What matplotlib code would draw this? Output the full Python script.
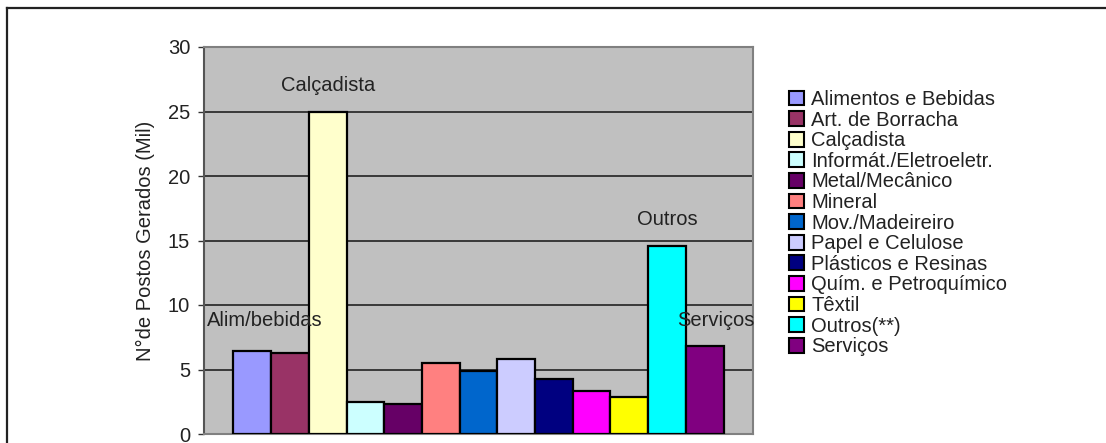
import matplotlib
matplotlib.use("Agg")
import matplotlib.pyplot as plt
from matplotlib.patches import Rectangle
from matplotlib.lines import Line2D

plt.rcParams['font.family'] = ['Liberation Sans', 'DejaVu Sans']

categories = ["Alimentos e Bebidas", "Art. de Borracha", "Calçadista",
              "Informát./Eletroeletr.", "Metal/Mecânico", "Mineral",
              "Mov./Madeireiro", "Papel e Celulose", "Plásticos e Resinas",
              "Quím. e Petroquímico", "Têxtil", "Outros(**)", "Serviços"]
values = [6.4, 6.3, 25.0, 2.5, 2.3, 5.5, 4.9, 5.8, 4.3, 3.3, 2.9, 14.6, 6.8]
colors = ["#9999FF", "#993366", "#FFFFCC", "#CCFFFF", "#660066", "#FF8080",
          "#0066CC", "#CCCCFF", "#000080", "#FF00FF", "#FFFF00", "#00FFFF",
          "#800080"]
yticks = [0, 5, 10, 15, 20, 25, 30]
annotations = [("Calçadista", 2, 27.0), ("Alim/bebidas", 0.33, 8.8),
               ("Outros", 11, 16.6), ("Serviços", 12.3, 8.8)]

FS = 14.5
W, H = 1106, 443
fig = plt.figure(figsize=(W / 100, H / 100), dpi=100)
ax = fig.add_axes([204 / W, 9 / H, 549 / W, 387 / H])
ax.set_facecolor("#C0C0C0")

x = list(range(len(values)))
ax.bar(x, values, width=1.0, color=colors, edgecolor="black", linewidth=1.6,
       zorder=3)

ax.set_xlim(-1.28, 13.28)
ax.set_ylim(0, 30)
ax.set_yticks(yticks)
ax.set_yticklabels([str(t) for t in yticks], fontsize=FS, color="#222222")
ax.set_xticks([])
ax.tick_params(axis='y', length=4, width=1, color="#333333", pad=6)
for t in yticks[1:-1]:
    ax.axhline(t, color="#222222", linewidth=1.2, zorder=1)

for side in ["top", "right"]:
    ax.spines[side].set_color("#808080")
    ax.spines[side].set_linewidth(1.5)
ax.spines["left"].set_color("#555555")
ax.spines["left"].set_linewidth(1.5)
ax.spines["bottom"].set_color("#808080")
ax.spines["bottom"].set_linewidth(1.5)

ax.set_ylabel("N°de Postos Gerados (Mil)", fontsize=FS, color="#222222",
              labelpad=9)

for txt, xx, yy in annotations:
    ax.text(xx, yy, txt, ha="center", va="center", fontsize=FS,
            color="#222222", zorder=5)

handles = [Rectangle((0, 0), 1, 1, facecolor=c, edgecolor="black",
                     linewidth=1.5) for c in colors]
leg = fig.legend(handles, categories, loc="upper left",
                 bbox_to_anchor=(789 / W, 1 - 90 / H),
                 frameon=False, fontsize=FS, labelspacing=0.08,
                 handlelength=0.75, handleheight=0.75, handletextpad=0.35,
                 borderpad=0, borderaxespad=0)
for t in leg.get_texts():
    t.set_color("#222222")

# outer frame lines
fig.add_artist(Line2D([7 / W, 7 / W], [0, 1 - 8 / H], transform=fig.transFigure,
                      color="#222222", linewidth=1.6))
fig.add_artist(Line2D([7 / W, 1], [1 - 8 / H, 1 - 8 / H],
                      transform=fig.transFigure, color="#222222",
                      linewidth=1.6))

fig.savefig("out.png", dpi=100)
